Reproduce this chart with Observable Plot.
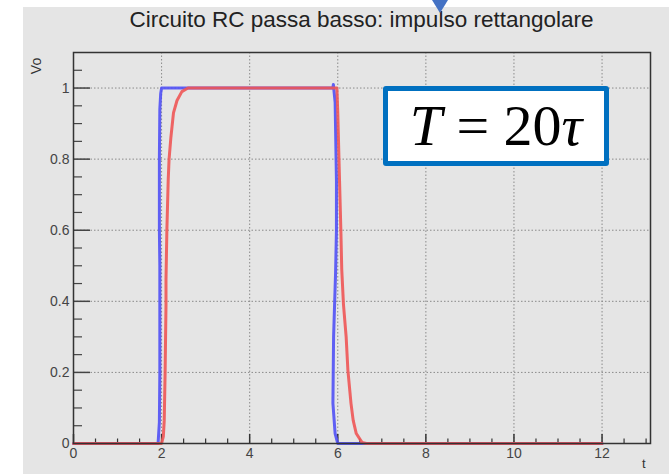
<!DOCTYPE html>
<html>
<head>
<meta charset="utf-8">
<script src="https://cdn.jsdelivr.net/npm/d3@7"></script>
<script src="https://cdn.jsdelivr.net/npm/@observablehq/plot@0.6"></script>
<style>
  html, body { margin: 0; padding: 0; background: #ffffff; }
  #wrap { position: relative; width: 669px; height: 474px; overflow: hidden; }
  #panel { position: absolute; left: 23px; top: 7px; right: 0; bottom: 0; background: #e5e5e5; }
  #chart { position: absolute; left: 0; top: 0; }
  #title { position: absolute; left: 27px; width: 669px; top: 7px; text-align: center;
           font-family: "Liberation Sans", Arial, sans-serif; font-size: 22.5px; color: #222; }
  #ylab { position: absolute; left: 28px; top: 58px; transform: rotate(-90deg); transform-origin: center;
          font-family: "Liberation Sans", Arial, sans-serif; font-size: 14px; color: #333; }
  #xlab { position: absolute; left: 642px; top: 456px;
          font-family: "Liberation Sans", Arial, sans-serif; font-size: 13px; color: #333; }
  #box { position: absolute; left: 383px; top: 86px; width: 216px; height: 70px; background: #fff;
         border: 5px solid #0070c0; border-radius: 3px; box-sizing: content-box;
         font-family: "Liberation Serif", "Times New Roman", serif; font-size: 58px; color: #000;
         line-height: 70px; text-align: center; white-space: nowrap; }
  #box i { font-style: italic; }
  #arrow { position: absolute; left: 432px; top: 0; }
</style>
</head>
<body>
<div id="wrap">
  <div id="panel"></div>
  <div id="chart"></div>
  <div id="title">Circuito RC passa basso: impulso rettangolare</div>
  <div id="ylab">Vo</div>
  <div id="xlab">t</div>
  <div id="box"><i>T</i> = 20<i>τ</i></div>
  <svg id="arrow" width="16" height="13"><polygon points="0,0 16,0 8,13" fill="#4472c4"/></svg>
</div>
<script>
// Input pulse (blue) and RC low-pass output (red)
const blueT = [0, 1.92, 1.95, 1.96, 1.96, 1.95, 1.95, 1.96, 1.98, 2.0, 2.03, 5.89, 5.9, 5.94, 5.97, 5.97, 5.95, 5.905, 5.89, 5.94, 6.0, 6.65, 12];
const blueV = [0, 0, 0.06, 0.2, 0.5, 0.6, 0.8, 0.94, 0.985, 1.0, 1.0, 1.0, 1.01, 0.96, 0.74, 0.6, 0.48, 0.30, 0.113, 0.028, 0, 0, 0];
const redT = [0, 2.0, 2.04, 2.06, 2.08, 2.1, 2.1, 2.12, 2.15, 2.17, 2.21, 2.27, 2.35, 2.46, 2.6, 5.98, 6.0, 6.04, 6.07, 6.09, 6.13, 6.19, 6.23, 6.30, 6.35, 6.42, 6.55, 6.65, 12];
const redV = [0, 0, 0.02, 0.065, 0.2, 0.39, 0.46, 0.6, 0.74, 0.8, 0.86, 0.93, 0.965, 0.99, 1.0, 1.0, 0.93, 0.74, 0.6, 0.49, 0.39, 0.30, 0.206, 0.113, 0.065, 0.028, 0.003, 0, 0];

const xMajor = [0, 2, 4, 6, 8, 10, 12];
const xMinor = [0.5, 1, 1.5, 2.5, 3, 3.5, 4.5, 5, 5.5, 6.5, 7, 7.5, 8.5, 9, 9.5, 10.5, 11, 11.5, 12.5, 13];
const yMajor = [0, 0.2, 0.4, 0.6, 0.8, 1];
const yMinor = [0.05, 0.1, 0.15, 0.25, 0.3, 0.35, 0.45, 0.5, 0.55, 0.65, 0.7, 0.75, 0.85, 0.9, 0.95, 1.05];

const blue = blueT.map((t, i) => ({t, v: blueV[i]}));
const red = redT.map((t, i) => ({t, v: redV[i]}));

const W = 669, H = 474;
const mL = 73, mR = 19, mT = 52, mB = 31;
const fw = W - mL - mR, fh = H - mT - mB;

const chart = Plot.plot({
  width: W, height: H,
  marginLeft: mL, marginRight: mR, marginTop: mT, marginBottom: mB,
  style: {background: "transparent", fontFamily: "Liberation Sans, Arial, sans-serif"},
  x: {domain: [0, 13.1]},
  y: {domain: [0, 1.1]},
  marks: [
    Plot.ruleX(xMajor.filter(d => d > 0), {stroke: "#8a8a8a", strokeDasharray: "1.5,2", strokeWidth: 1}),
    Plot.ruleY(yMajor.filter(d => d > 0), {stroke: "#8a8a8a", strokeDasharray: "1.5,2", strokeWidth: 1}),
    Plot.tickX(xMajor, {x: d => d, stroke: "#333", strokeWidth: 1.5, insetTop: fh - 9}),
    Plot.tickX(xMinor, {x: d => d, stroke: "#333", strokeWidth: 1.2, insetTop: fh - 4.5}),
    Plot.tickY(yMajor, {y: d => d, stroke: "#444", strokeWidth: 1.5, insetRight: fw - 17}),
    Plot.tickY(yMinor, {y: d => d, stroke: "#444", strokeWidth: 1.2, insetRight: fw - 9}),
    Plot.axisX({ticks: xMajor, tickSize: 0, tickPadding: 5, fontSize: 14, fill: "#444", label: null, tickFormat: d3.format("d")}),
    Plot.axisY({ticks: yMajor, tickSize: 0, tickPadding: 4, fontSize: 14, fill: "#444", label: null, tickFormat: d => String(d)}),
    Plot.line(blue, {x: "t", y: "v", stroke: "#5050f5", strokeWidth: 3, strokeOpacity: 0.9, curve: "linear"}),
    Plot.line(red, {x: "t", y: "v", stroke: "#ee5555", strokeWidth: 3, strokeOpacity: 0.9, curve: "linear"}),
    Plot.frame({stroke: "#333", strokeWidth: 1.5})
  ]
});
document.getElementById("chart").appendChild(chart);
</script>
</body>
</html>
